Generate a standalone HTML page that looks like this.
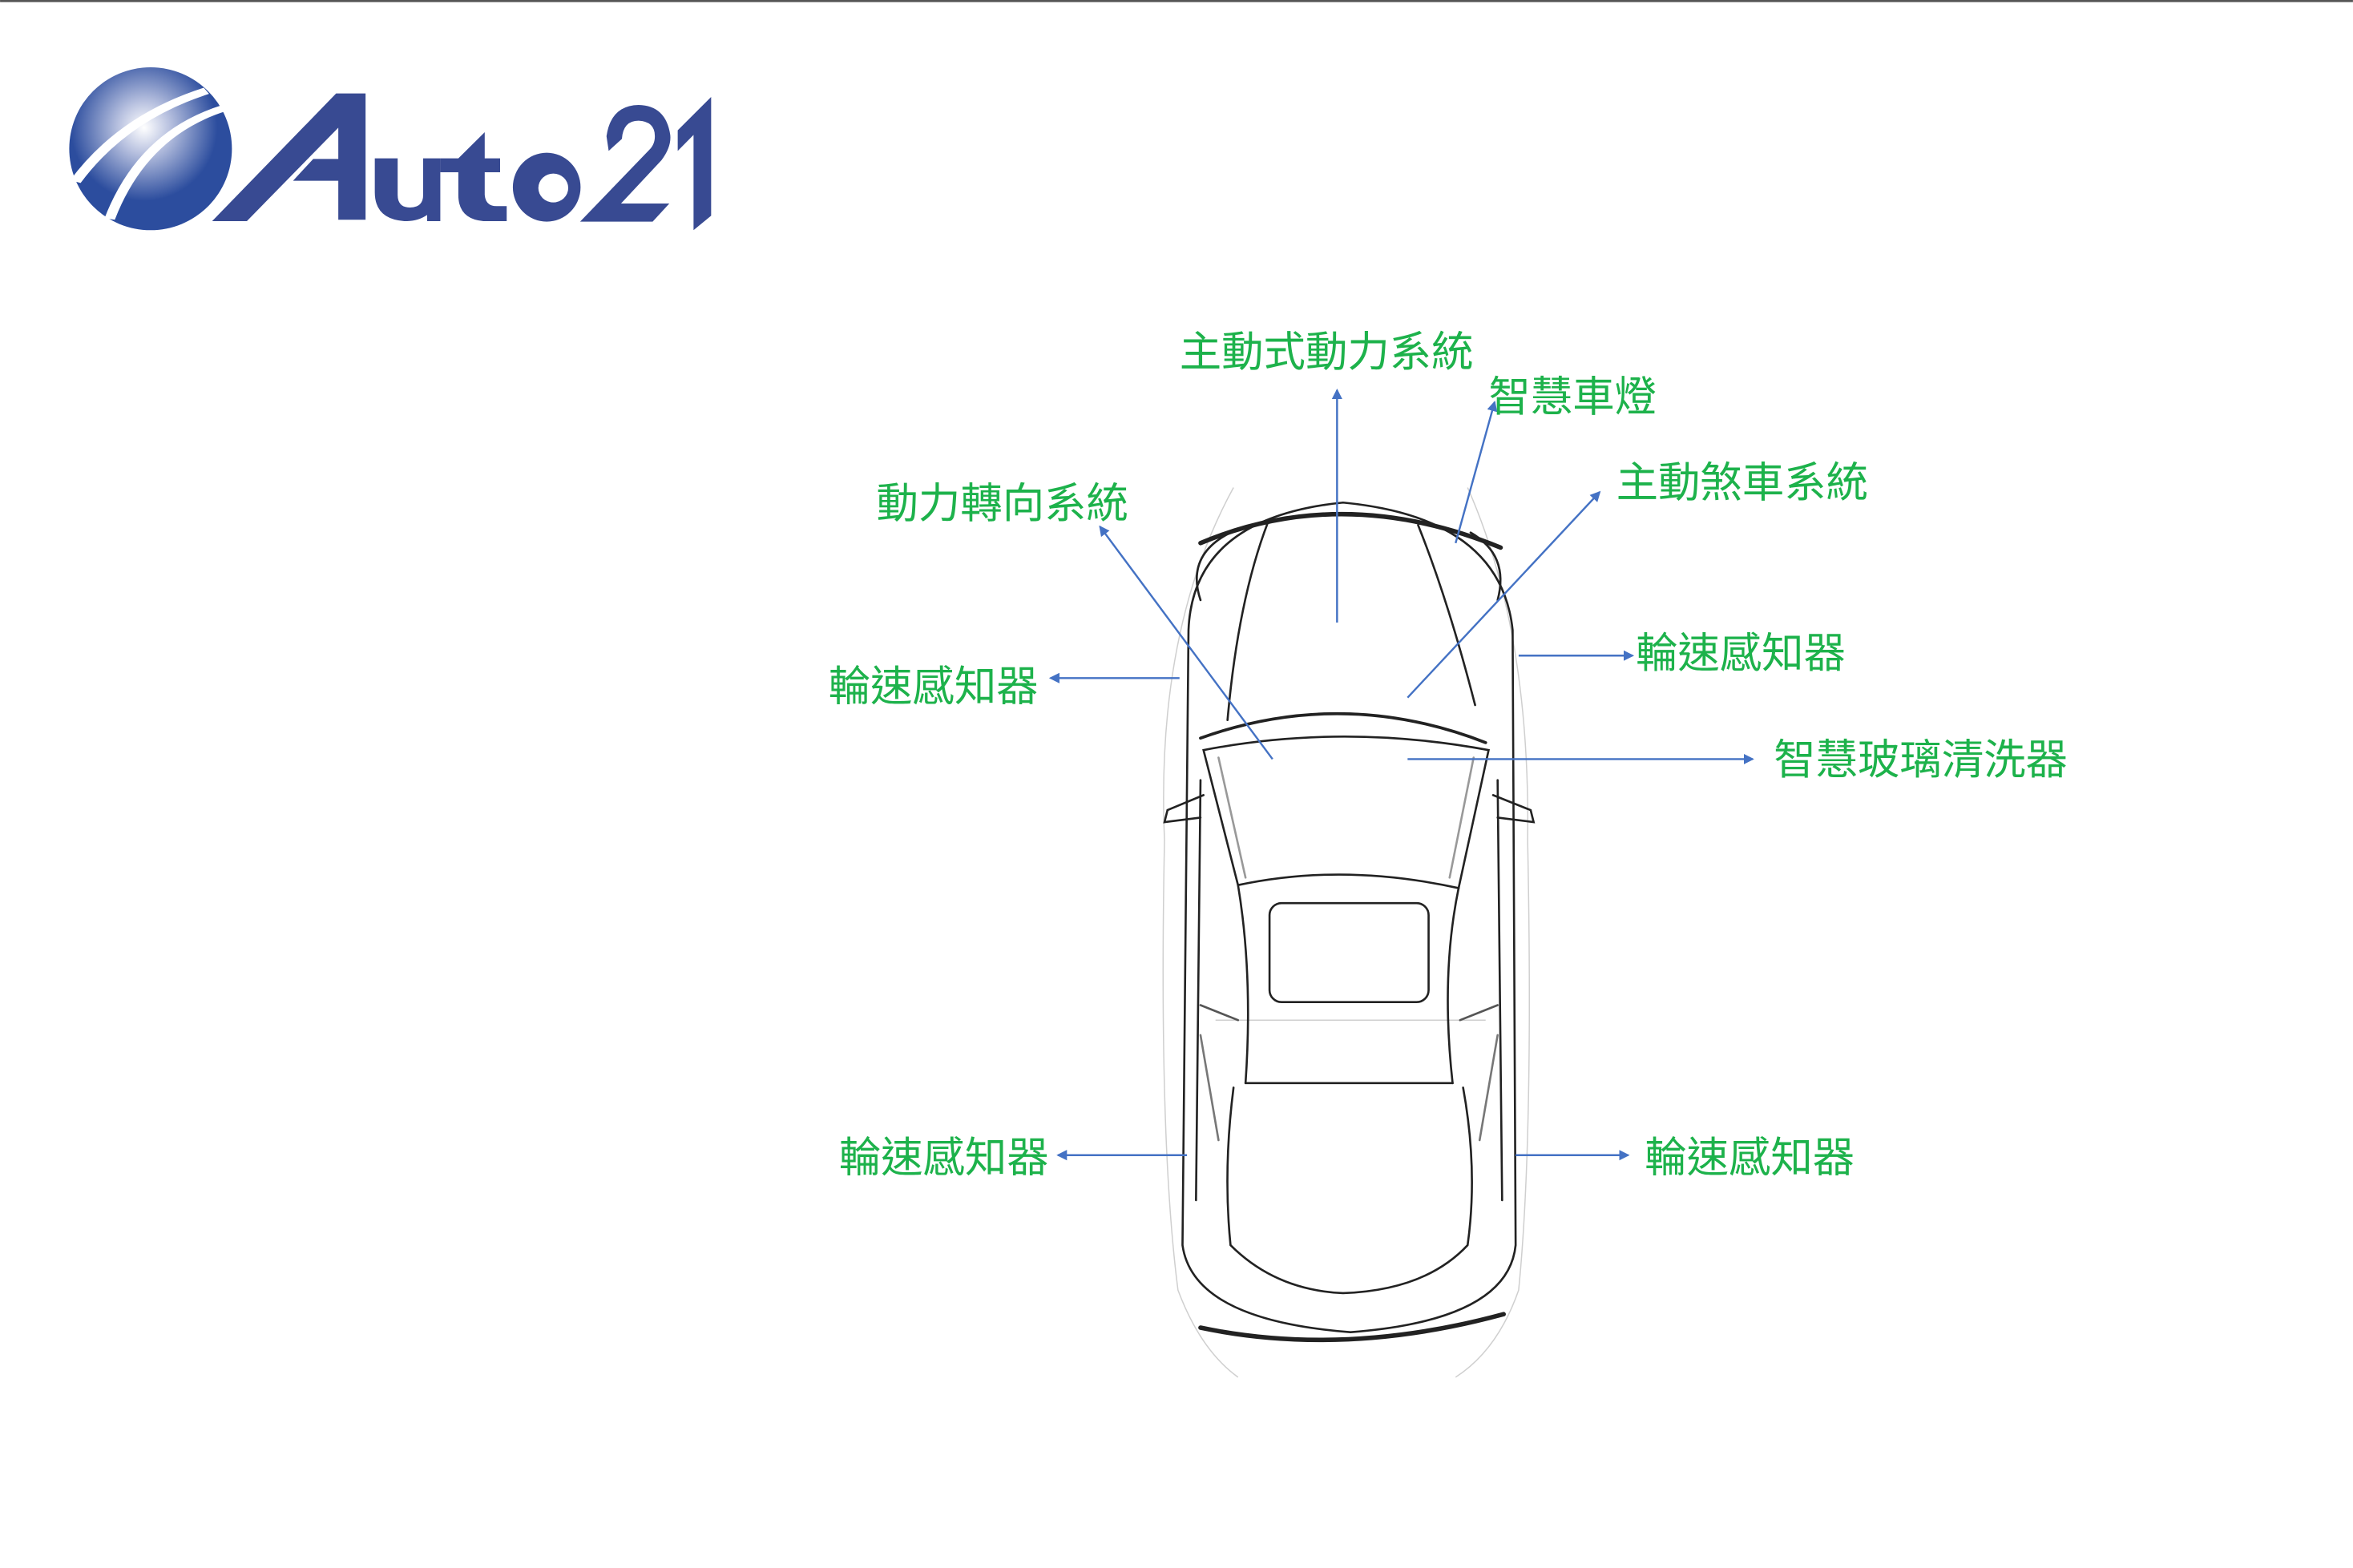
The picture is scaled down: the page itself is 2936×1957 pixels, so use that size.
<!DOCTYPE html>
<html><head><meta charset="utf-8">
<style>
html,body{margin:0;padding:0;background:#fff;width:2936px;height:1957px;overflow:hidden}
svg{display:block}
text{font-family:"Liberation Sans","Noto Sans CJK TC",sans-serif;fill:#1db24b;font-size:28px}
</style></head><body>
<svg width="2936" height="1957" viewBox="0 0 1568 1045.2" xmlns="http://www.w3.org/2000/svg">
<defs>
<radialGradient id="g" cx="0.46" cy="0.37" r="0.45">
<stop offset="0" stop-color="#ffffff"/>
<stop offset="0.35" stop-color="#b9c2e0"/>
<stop offset="1" stop-color="#2c4d9e"/>
</radialGradient>
<marker id="ah" markerWidth="8" markerHeight="8" refX="6" refY="4" orient="auto" markerUnits="userSpaceOnUse">
<path d="M0,0.5 L7,4 L0,7.5 Z" fill="#4472c4"/>
</marker>
</defs>
<rect x="0" y="0" width="1568" height="1.4" fill="#555"/>
<!-- logo, original drawn in zoom coords -->
<g transform="scale(0.53407)">
<g transform="translate(60,60) scale(0.5486,0.3333)">
<ellipse cx="233" cy="377" rx="185" ry="305" fill="url(#g)"/>
<path d="M62,500 Q170,260 360,160" stroke="#fff" stroke-width="26" fill="none"/>
<path d="M140,640 Q215,320 400,225" stroke="#fff" stroke-width="24" fill="none"/>
<g fill="#384a92">
<path d="M373,648 L655,170 L722,170 L722,643 L660,643 L660,497 L557,497 L603,415 L660,415 L660,298 L452,648 Z"/>
<path d="M743,413 L795,413 L795,550 Q795,597 823,597 Q853,597 853,550 L853,413 L892,413 L892,648 L862,648 L862,625 Q840,650 810,648 Q743,640 743,540 Z"/>
<path d="M933,413 L993,315 L993,413 L1028,413 L1028,465 L993,465 L993,550 Q995,592 1020,592 L1043,592 L1043,648 L990,648 Q933,640 933,550 L933,465 L892,465 L892,413 Z"/>
<path fill-rule="evenodd" d="M1057,521 A77,129 0 1,0 1211,521 A77,129 0 1,0 1057,521 Z M1115,524 A34,54 0 1,0 1183,524 A34,54 0 1,0 1115,524 Z"/>
<path d="M1210,650 L1375,650 L1413,582 L1303,582 L1395,420 Q1418,370 1415,325 Q1405,215 1343,213 Q1280,215 1270,330 L1275,385 L1305,340 Q1308,272 1343,272 Q1380,275 1380,330 Q1380,360 1368,380 Z"/>
<path d="M1432,308 L1508,183 L1508,628 L1468,682 L1468,325 L1432,385 Z"/>
</g>
</g>
</g>
<!-- car -->
<g fill="none" stroke="#cfcfcf" stroke-width="0.8">
<path d="M822,325 Q770,420 776,560 Q772,760 785,860 Q800,900 825,918"/>
<path d="M978,325 Q1020,420 1018,560 Q1022,760 1012,860 Q998,900 970,918"/>
<path d="M810,680 L990,680"/>
</g>
<g fill="none" stroke="#222" stroke-width="1.4" stroke-linecap="round">
<path d="M792,420 Q795,345 895,335 Q1000,345 1008,420 L1010,830 Q1005,880 900,888 Q795,880 788,830 Z"/>
<path d="M800,362 Q895,322 1000,365" stroke-width="3"/>
<path d="M845,348 Q825,400 818,480"/>
<path d="M945,350 Q965,400 983,470"/>
<path d="M800,400 Q790,370 820,355"/>
<path d="M998,400 Q1006,370 980,355"/>
<path d="M800,492 Q895,458 990,495" stroke-width="2"/>
<path d="M802,500 L825,590 Q895,575 972,592 L992,500 Q895,482 802,500 Z"/>
<path d="M812,505 L830,585 M982,505 L966,585" stroke="#999"/>
<path d="M825,590 Q835,650 830,722"/>
<path d="M972,592 Q960,650 968,722"/>
<rect x="846" y="602" width="106" height="66" rx="8"/>
<path d="M830,722 L968,722"/>
<path d="M822,725 Q815,780 820,830 Q850,860 895,862 Q950,860 978,830 Q985,780 975,725"/>
<path d="M800,885 Q895,905 1002,876" stroke-width="3"/>
<path d="M800,520 L797,800"/>
<path d="M998,520 L1001,800"/>
<path d="M802,530 L778,540 L776,548 L800,545"/>
<path d="M995,530 L1020,540 L1022,548 L998,545"/>
<path d="M800,670 L825,680 M998,670 L973,680" stroke="#555"/>
<path d="M800,690 L812,760 M998,690 L986,760" stroke="#777"/>
</g>
<!-- arrows -->
<g stroke="#4472c4" stroke-width="1.3" fill="none" marker-end="url(#ah)">
<path d="M891,415 L891,260"/>
<path d="M970,362 L996,268"/>
<path d="M938,465 L1066,328"/>
<path d="M848,506 L733,351"/>
<path d="M786,452 L700,452"/>
<path d="M1012,437 L1088,437"/>
<path d="M938,506 L1168,506"/>
<path d="M791,770 L705,770"/>
<path d="M1010,770 L1085,770"/>
</g>
<!-- labels -->
<text x="786" y="244">主動式動力系統</text>
<text x="992" y="274">智慧車燈</text>
<text x="1077" y="331">主動煞車系統</text>
<text x="584" y="345">動力轉向系統</text>
<text x="552" y="467">輪速感知器</text>
<text x="1090" y="445">輪速感知器</text>
<text x="1182" y="516">智慧玻璃清洗器</text>
<text x="559" y="781">輪速感知器</text>
<text x="1096" y="781">輪速感知器</text>
</svg>
</body></html>
